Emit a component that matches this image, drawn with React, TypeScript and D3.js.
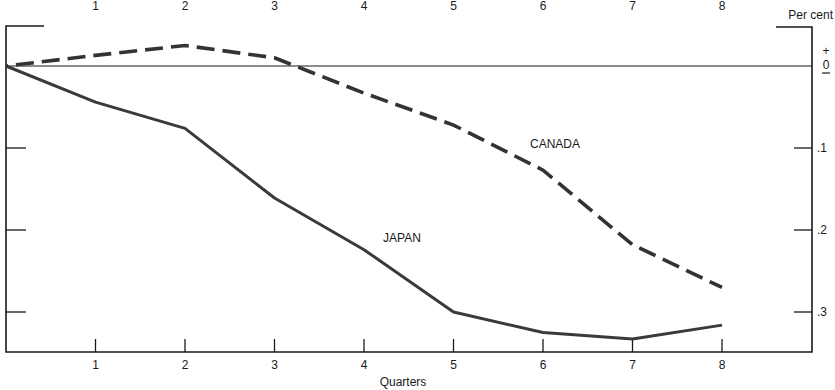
import React from "react";
import * as d3 from "d3";

const quarters = [0, 1, 2, 3, 4, 5, 6, 7, 8];
const japan = [0, -0.044, -0.076, -0.161, -0.224, -0.3, -0.325, -0.333, -0.316];
const canada = [0, 0.013, 0.025, 0.01, -0.033, -0.072, -0.127, -0.218, -0.27];
const xTickLabels = ["1", "2", "3", "4", "5", "6", "7", "8"];
const yTicks = [0.1, 0.2, 0.3];
const yTickLabels = [".1", ".2", ".3"];

const W = 835;
const H = 390;
const left = 6;
const right = 812;
const top = 26;
const bottom = 352;

export default function App() {
  const x = d3.scaleLinear().domain([0, 8]).range([left, 722]);
  const y = d3.scaleLinear().domain([0, -0.3]).range([66, 312]);

  const line = d3
    .line<number>()
    .x((_, i) => x(quarters[i]))
    .y((d) => y(d))
    .curve(d3.curveLinear);

  const font = "'Liberation Sans', Arial, Helvetica, sans-serif";
  const ink = "#1a1a1a";

  return (
    <svg
      width={W}
      height={H}
      style={{ position: "absolute", left: 0, top: 0, background: "#fff" }}
      fontFamily={font}
    >
      {/* frame */}
      <path
        d={`M${left + 38},${top} H${left} V${bottom} H${right} V${top + 1} H${right - 36}`}
        fill="none"
        stroke={ink}
        strokeWidth={1.6}
      />
      {/* zero line */}
      <line x1={left} x2={right} y1={y(0)} y2={y(0)} stroke={ink} strokeWidth={1.2} />

      {/* y ticks on both sides */}
      {yTicks.map((t, i) => (
        <g key={t}>
          <line x1={left} x2={left + 20} y1={y(-t)} y2={y(-t)} stroke={ink} strokeWidth={1.3} />
          <line x1={right - 18} x2={right} y1={y(-t)} y2={y(-t)} stroke={ink} strokeWidth={1.3} />
          <text x={right + 5} y={y(-t) + 4} fontSize={12} fill={ink}>
            {yTickLabels[i]}
          </text>
        </g>
      ))}

      {/* x ticks */}
      {xTickLabels.map((lab, i) => (
        <g key={lab}>
          <line
            x1={x(i + 1)}
            x2={x(i + 1)}
            y1={bottom}
            y2={bottom - 13}
            stroke={ink}
            strokeWidth={1.3}
          />
          <text x={x(i + 1)} y={bottom + 17} fontSize={12} textAnchor="middle" fill={ink}>
            {lab}
          </text>
          <text x={x(i + 1)} y={10} fontSize={12} textAnchor="middle" fill={ink}>
            {lab}
          </text>
        </g>
      ))}
      <text x={403} y={386} fontSize={12} textAnchor="middle" fill={ink}>
        Quarters
      </text>

      {/* right axis unit labels */}
      <text x={833} y={19} fontSize={12} textAnchor="end" fill={ink}>
        Per cent
      </text>
      <text x={826} y={55} fontSize={12} textAnchor="middle" fill={ink}>
        +
      </text>
      <text x={826} y={69} fontSize={12} textAnchor="middle" fill={ink}>
        0
      </text>
      <line x1={822} x2={830} y1={73} y2={73} stroke={ink} strokeWidth={1.2} />

      {/* series */}
      <path
        d={line(japan) ?? ""}
        fill="none"
        stroke="#3a3a3a"
        strokeWidth={3}
        strokeLinejoin="round"
      />
      <path
        d={line(canada) ?? ""}
        fill="none"
        stroke="#333"
        strokeWidth={3.6}
        strokeDasharray="18 8"
        strokeDashoffset={-10}
      />

      <text x={555} y={148} fontSize={12} textAnchor="middle" fill={ink}>
        CANADA
      </text>
      <text x={402} y={242} fontSize={12} textAnchor="middle" fill={ink}>
        JAPAN
      </text>
    </svg>
  );
}
